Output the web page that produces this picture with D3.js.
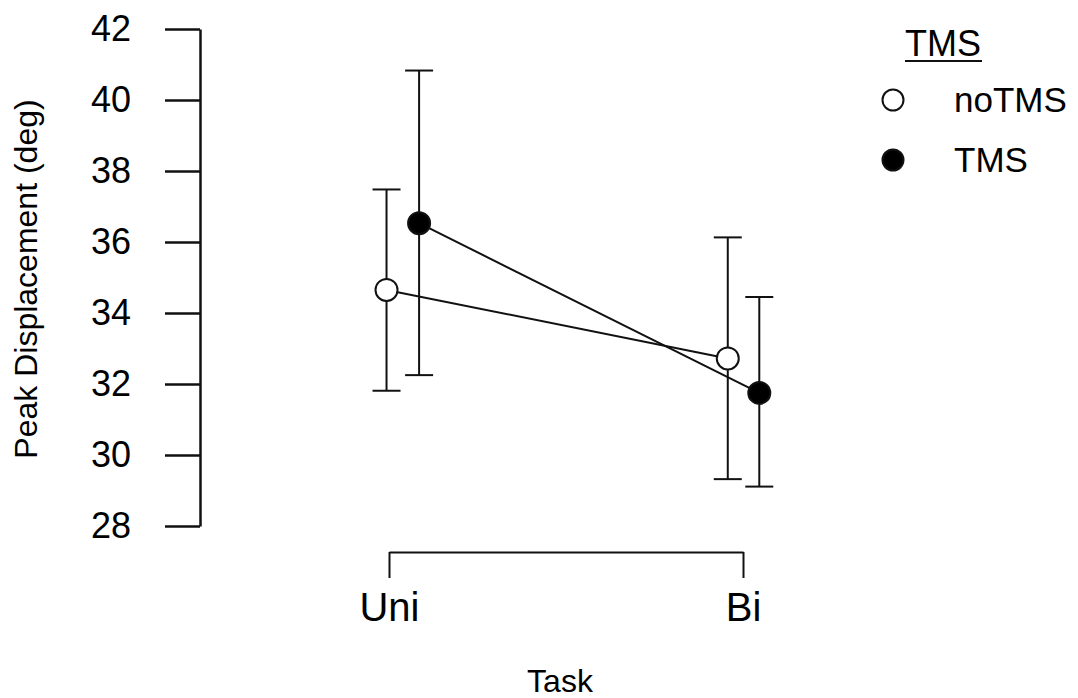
<!DOCTYPE html>
<html><head><meta charset="utf-8">
<script src="https://cdn.jsdelivr.net/npm/d3@7"></script>
<style>body{margin:0;background:#fff}svg{display:block}text{font-family:"Liberation Sans",Arial,sans-serif;fill:#000}</style>
</head><body>
<svg id="c" width="1078" height="698"></svg>
<script>
const categories = ["Uni", "Bi"];
const seriesNames = ["noTMS", "TMS"];
const noTMSMean = [34.65, 32.72];
const noTMSLower = [31.81, 29.32];
const noTMSUpper = [37.48, 36.13];
const tmsMean = [36.53, 31.75];
const tmsLower = [32.25, 29.11];
const tmsUpper = [40.83, 34.45];
const noTMSDodge = [-0.007, -0.043];
const tmsDodge = [0.085, 0.046];
const yTicks = [28, 30, 32, 34, 36, 38, 40, 42];
const yTitle = "Peak Displacement (deg)";
const xTitle = "Task";
const legendTitle = "TMS";

const series = [
  {name: seriesNames[0], mean: noTMSMean, lo: noTMSLower, hi: noTMSUpper, dodge: noTMSDodge, fill: "#fff"},
  {name: seriesNames[1], mean: tmsMean, lo: tmsLower, hi: tmsUpper, dodge: tmsDodge, fill: "#000"}
];

const svg = d3.select("#c");
const ink = "#111";
const y = d3.scaleLinear().domain([28, 42]).range([526, 29]);
const x = d3.scaleLinear().domain([1, 2]).range([389, 743]);

// Y axis
const yAxis = svg.append("g").attr("transform", "translate(200,0)")
  .call(d3.axisLeft(y).tickValues(yTicks).tickSize(35).tickPadding(34).tickSizeOuter(0));
yAxis.select(".domain").attr("stroke", ink).attr("stroke-width", 2.5);
yAxis.selectAll(".tick line").attr("stroke", ink).attr("stroke-width", 2.5);
yAxis.selectAll(".tick text").attr("font-size", 36).attr("fill", "#000")
  .attr("font-family", '"Liberation Sans",Arial,sans-serif');

// X axis bracket
const xAxis = svg.append("g").attr("transform", "translate(0,552)")
  .call(d3.axisBottom(x).tickValues([1, 2]).tickFormat((d, i) => categories[i]).tickSize(26).tickPadding(15).tickSizeOuter(0));
xAxis.select(".domain").attr("stroke", ink).attr("stroke-width", 2);
xAxis.selectAll(".tick line").attr("stroke", ink).attr("stroke-width", 2);
xAxis.selectAll(".tick text").attr("font-size", 40).attr("fill", "#000")
  .attr("font-family", '"Liberation Sans",Arial,sans-serif');

// Titles
svg.append("text").attr("x", 560).attr("y", 692).attr("text-anchor", "middle").attr("font-size", 32).text(xTitle);
svg.append("text").attr("transform", "translate(37,279) rotate(-90)").attr("text-anchor", "middle").attr("font-size", 32).text(yTitle);

const cap = 14;
series.forEach(s => {
  const pts = s.mean.map((m, i) => ({x: x(i + 1 + s.dodge[i]), y: y(m), lo: y(s.lo[i]), hi: y(s.hi[i])}));
  const g = svg.append("g");
  pts.forEach(p => {
    g.append("line").attr("x1", p.x).attr("x2", p.x).attr("y1", p.lo).attr("y2", p.hi).attr("stroke", ink).attr("stroke-width", 2);
    [p.lo, p.hi].forEach(v => g.append("line").attr("x1", p.x - cap).attr("x2", p.x + cap).attr("y1", v).attr("y2", v).attr("stroke", ink).attr("stroke-width", 2));
  });
  s.pts = pts;
});
series.forEach(s => {
  svg.append("path").attr("d", d3.line().x(d => d.x).y(d => d.y)(s.pts)).attr("fill", "none").attr("stroke", ink).attr("stroke-width", 2);
});
series.forEach(s => {
  svg.selectAll(null).data(s.pts).enter().append("circle")
    .attr("cx", d => d.x).attr("cy", d => d.y).attr("r", 11)
    .attr("fill", s.fill).attr("stroke", ink).attr("stroke-width", 2);
});

// Legend
const lg = svg.append("g");
lg.append("text").attr("x", 905).attr("y", 56).attr("font-size", 36).text(legendTitle);
lg.append("line").attr("x1", 905).attr("x2", 982).attr("y1", 61).attr("y2", 61).attr("stroke", ink).attr("stroke-width", 2);
series.forEach((s, i) => {
  const cy = 100 + i * 60;
  lg.append("circle").attr("cx", 893).attr("cy", cy).attr("r", 10.5).attr("fill", s.fill).attr("stroke", ink).attr("stroke-width", 2);
  lg.append("text").attr("x", 954).attr("y", cy + 12).attr("font-size", 35).text(s.name);
});
</script>
</body></html>
